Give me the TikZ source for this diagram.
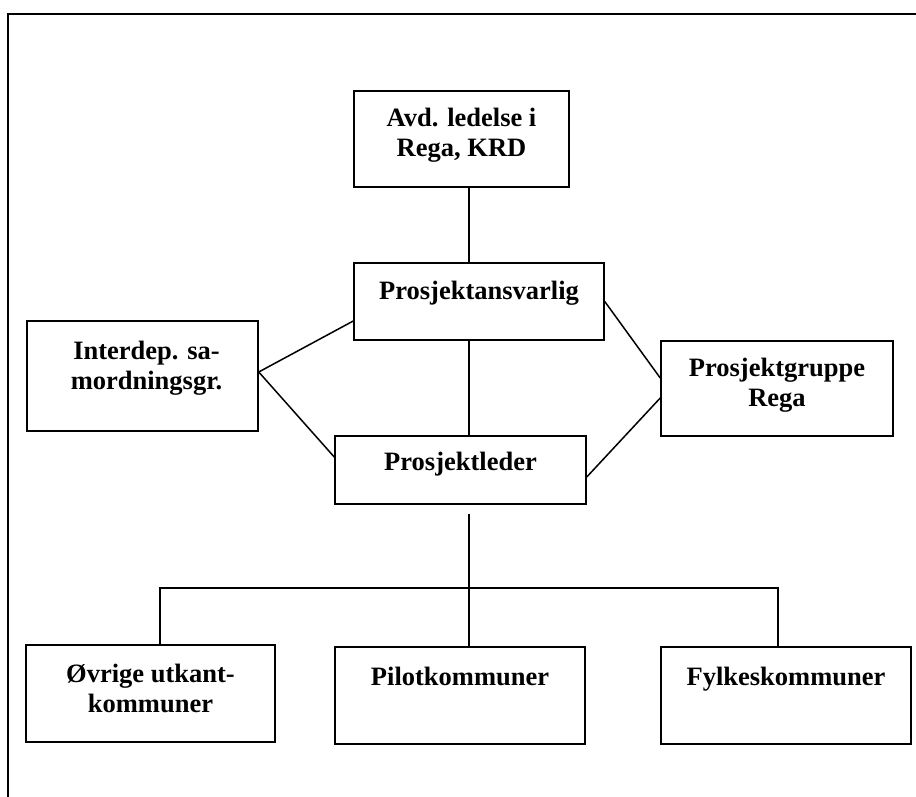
\documentclass[tikz,border=0pt]{standalone}
\usepackage{fontspec}
\setmainfont{Liberation Serif}
\usetikzlibrary{positioning}
\tikzset{
  unit/.style={draw, line width=1.5pt, inner sep=0pt},
  txt/.style={anchor=north, align=center, inner sep=0pt,
    font=\bfseries\fontsize{26.5pt}{30pt}\selectfont},
  link/.style={line width=1.5pt},
}

\begin{document}
\begin{tikzpicture}[x=1pt, y=-1pt]
\useasboundingbox (0,0) rectangle (916,797);
% frame
\draw[line width=2.5pt] (916,14) -- (8,14) -- (8,797);

% nodes
\node[unit, minimum width=215pt, minimum height=96pt,
  label={[txt, yshift=-18pt]north:Avd. ledelse i\\Rega, KRD}] (avd) at (461.5,139) {};
\node[unit, minimum width=250pt, minimum height=77pt,
  label={[txt, yshift=-19pt]north:Prosjektansvarlig}] (ansv) at (479,301.5) {};
\node[unit, minimum width=231pt, minimum height=110pt,
  label={[txt, yshift=-21pt, xshift=4pt]north:Interdep. sa-\\mordningsgr.}] (inter) at (142.5,376) {};
\node[unit, minimum width=232pt, minimum height=95pt,
  label={[txt, yshift=-18pt]north:Prosjektgruppe\\Rega}] (gruppe) at (777,388.5) {};
\node[unit, minimum width=251pt, minimum height=68pt,
  label={[txt, yshift=-17pt]north:Prosjektleder}] (leder) at (460.5,470) {};
\node[unit, minimum width=249pt, minimum height=97pt,
  label={[txt, yshift=-20pt]north:Øvrige utkant-\\kommuner}] (ovrige) at (150.5,693.5) {};
\node[unit, minimum width=250pt, minimum height=97pt,
  label={[txt, yshift=-21pt]north:Pilotkommuner}] (pilot) at (460,695.5) {};
\node[unit, minimum width=250pt, minimum height=97pt,
  label={[txt, yshift=-21pt]north:Fylkeskommuner}] (fylke) at (786,695.5) {};
\coordinate (spine) at (469,0);
\coordinate (bus) at (469,588);

% edges
\draw[link] (avd.south -| spine) -- (ansv.north -| spine);
\draw[link] (ansv.south -| spine) -- (leder.north -| spine);
\draw[link] ([yshift=4pt]inter.east) -- ([yshift=-19.5pt]ansv.west);
\draw[link] ([yshift=4pt]inter.east) -- ([yshift=13pt]leder.west);
\draw[link] (ansv.east) -- ([yshift=10.5pt]gruppe.west);
\draw[link] ([yshift=-9.5pt]gruppe.west) -- ([yshift=-7pt]leder.east);
\draw[link] ([yshift=-9pt]leder.south -| spine) -- (pilot.north -| spine);
\draw[link] ([xshift=9.5pt]ovrige.north) |- (bus) -| ([xshift=-8pt]fylke.north);
\end{tikzpicture}
\end{document}
